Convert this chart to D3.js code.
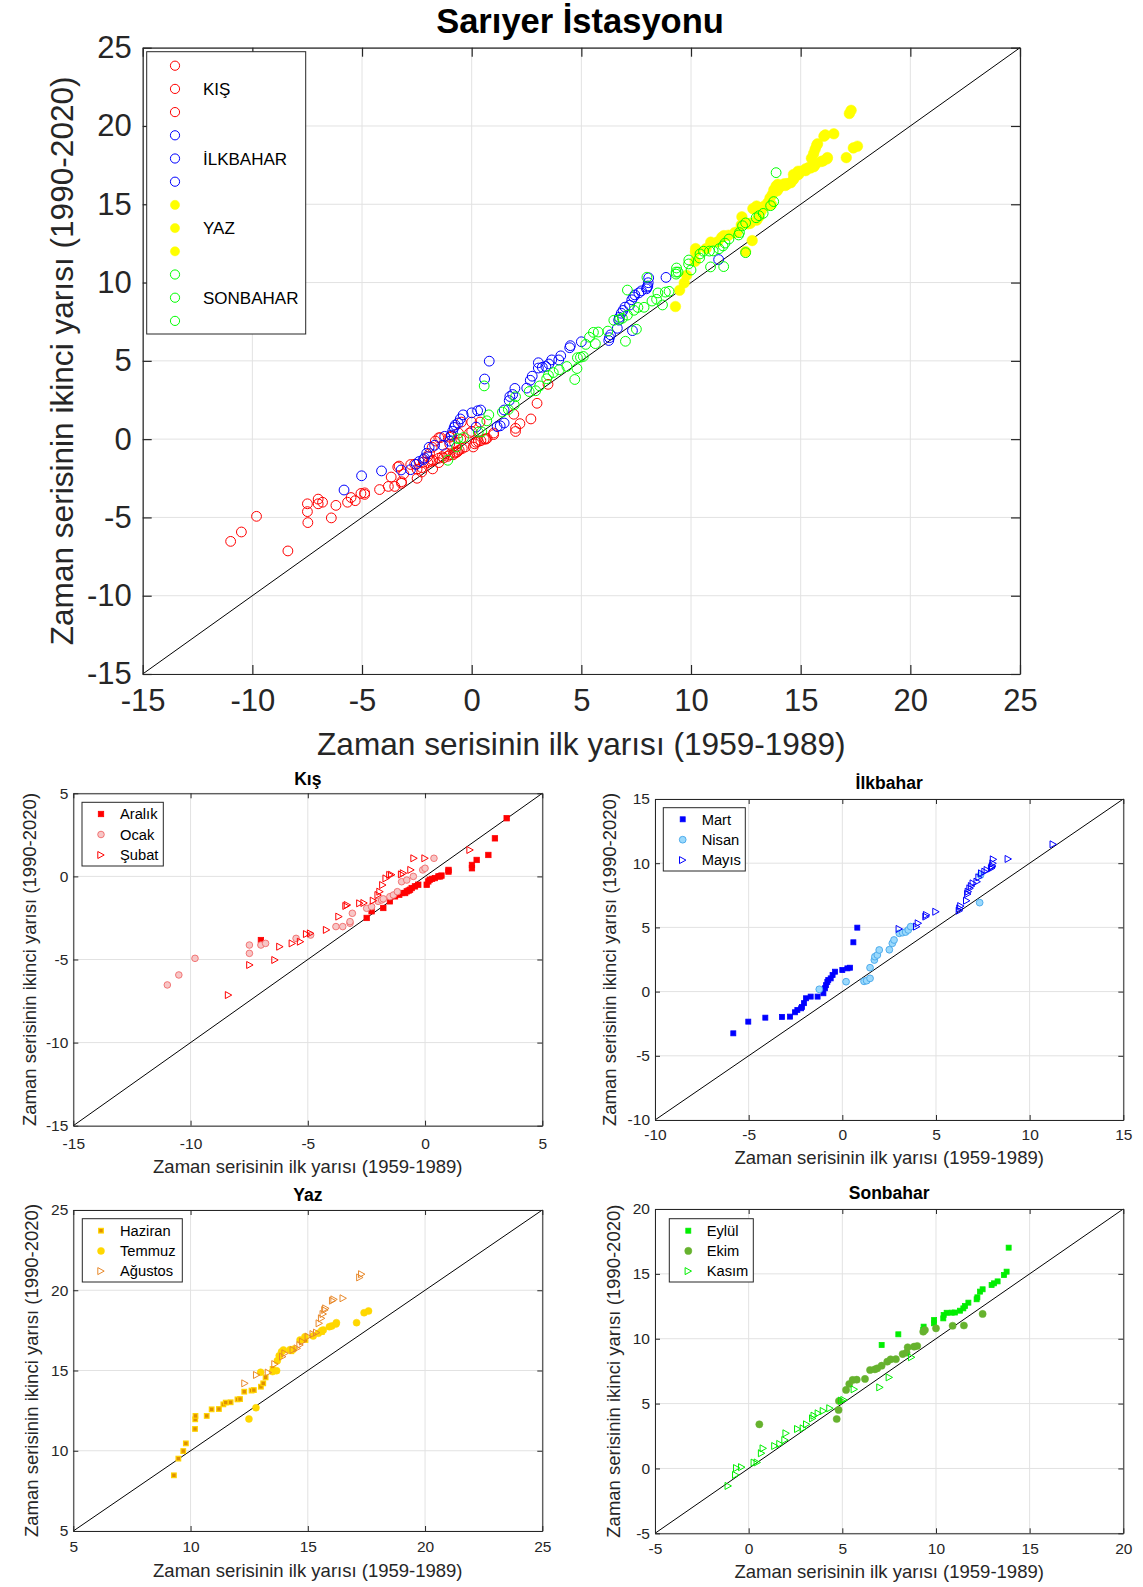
<!DOCTYPE html>
<html><head><meta charset="utf-8">
<script src="https://cdn.jsdelivr.net/npm/d3@7"></script>
<style>
body{margin:0;background:#fff}
svg{display:block}
text{font-family:"Liberation Sans",Arial,Helvetica,sans-serif}
</style>
</head><body>
<svg id="chart" width="1143" height="1587"></svg>
<script>
// ---------- DATA: quantile pairs [first half (1959-1989), second half (1990-2020)] ----------
const aralik = [[-7.0,-3.83],[-2.49,-2.5],[-2.28,-2.1],[-1.78,-1.9],[-1.5,-1.5],[-1.28,-1.2],[-1.1,-1.1],[-1.0,-1.0],[-0.85,-1.0],[-0.78,-0.9],[-0.7,-0.85],[-0.64,-0.8],[-0.57,-0.7],[-0.43,-0.6],[-0.29,-0.5],[0.07,-0.5],[0.14,-0.3],[0.2,-0.2],[0.3,-0.15],[0.42,-0.1],[0.57,0.0],[0.64,0.0],[0.7,0.05],[1.0,0.29],[1.0,0.39],[2.0,0.49],[2.0,0.69],[2.2,0.99],[2.7,1.29],[2.98,2.29],[3.48,3.5]];
const ocak = [[-10.99,-6.53],[-10.5,-5.93],[-9.81,-4.93],[-7.49,-4.63],[-7.49,-4.13],[-7.0,-4.13],[-6.8,-4.03],[-5.5,-3.73],[-4.88,-3.53],[-3.8,-3.02],[-3.51,-3.02],[-3.2,-2.82],[-3.2,-2.72],[-3.1,-2.22],[-2.49,-1.92],[-2.28,-1.82],[-2.0,-1.5],[-1.85,-1.42],[-1.78,-1.35],[-1.5,-1.22],[-1.35,-1.12],[-1.18,-0.92],[-1.0,-0.32],[-0.78,-0.22],[-0.5,0.0],[-0.1,0.39],[0.0,0.49],[0.38,1.09]];
const subat = [[-8.38,-7.14],[-7.47,-5.33],[-6.4,-5.03],[-6.19,-4.23],[-5.66,-4.03],[-5.31,-3.93],[-5.05,-3.47],[-4.88,-3.43],[-4.2,-3.22],[-3.67,-2.42],[-3.37,-1.78],[-3.31,-1.72],[-2.78,-1.62],[-2.6,-1.6],[-2.2,-1.46],[-2.0,-1.12],[-1.92,-0.92],[-1.8,-0.52],[-1.66,-0.12],[-1.5,0.09],[-1.42,0.1],[-1.0,0.12],[-0.92,0.19],[-0.6,0.39],[-0.47,1.09],[0.0,1.09],[1.92,1.59]];
const mart = [[-5.82,-3.25],[-5.02,-2.34],[-4.11,-2.03],[-3.22,-1.97],[-2.79,-1.95],[-2.53,-1.61],[-2.4,-1.43],[-2.2,-1.3],[-2.15,-1.2],[-2.05,-0.9],[-1.94,-0.52],[-1.69,-0.39],[-1.32,-0.39],[-1.01,-0.13],[-0.93,0.26],[-0.87,0.5],[-0.8,0.75],[-0.75,0.9],[-0.62,1.03],[-0.52,1.29],[-0.39,1.55],[0.0,1.68],[0.27,1.81],[0.41,1.86],[0.59,3.84],[0.8,4.98]];
const nisan = [[-1.23,0.18],[0.2,0.77],[1.16,0.8],[1.3,0.85],[1.48,1.03],[1.48,1.86],[1.71,2.46],[1.74,2.72],[1.87,2.85],[1.97,3.24],[2.51,3.26],[2.67,3.76],[2.76,4.02],[3.04,4.54],[3.22,4.59],[3.38,4.64],[3.52,4.8],[3.65,5.06],[7.33,6.93],[7.38,9.08]];
const mayis = [[3.04,4.88],[3.97,5.06],[4.06,5.32],[4.47,5.84],[4.5,5.97],[5.0,6.22],[6.25,6.3],[6.28,6.48],[6.33,6.66],[6.64,7.08],[6.7,7.6],[6.73,7.78],[6.82,8.04],[6.9,8.22],[6.99,8.43],[7.2,8.56],[7.3,8.9],[7.44,9.21],[7.62,9.34],[7.74,9.47],[7.97,9.6],[8.0,9.7],[8.03,9.78],[8.05,9.99],[8.07,10.3],[8.86,10.33],[11.26,11.47]];
const haziran = [[9.29,8.47],[9.48,9.51],[9.69,9.98],[9.8,10.46],[10.19,11.36],[10.2,11.96],[10.21,12.17],[10.69,12.17],[10.9,12.58],[11.21,12.6],[11.4,12.89],[11.5,13.0],[11.71,13.02],[12.0,13.2],[12.11,13.22],[12.29,13.68],[12.6,13.75],[12.7,13.78],[13.0,13.99],[13.1,14.2],[13.2,14.57],[13.5,15.1],[13.8,15.9],[14.3,16.2],[14.9,16.9],[15.6,17.4]];
const temmuz = [[12.49,11.98],[12.79,12.68],[12.99,14.89],[13.5,14.93],[13.67,14.99],[13.7,15.61],[13.78,15.92],[13.88,16.17],[13.96,16.28],[14.24,16.3],[14.38,16.32],[14.67,16.9],[14.88,17.11],[15.23,17.15],[15.45,17.32],[15.59,17.48],[15.66,17.52],[15.92,17.73],[16.02,17.77],[16.2,17.9],[16.22,17.98],[17.08,17.98],[17.4,18.6],[17.59,18.71]];
const agustos = [[12.32,14.2],[12.82,14.72],[13.32,14.87],[13.6,15.4],[13.93,15.86],[14.03,16.07],[14.38,16.28],[14.55,16.38],[14.67,16.59],[14.78,16.8],[15.02,17.11],[15.23,17.27],[15.38,17.36],[15.49,17.94],[15.59,18.25],[15.66,18.52],[15.73,18.77],[15.77,18.87],[16.06,19.35],[16.12,19.43],[16.51,19.5],[17.22,20.8],[17.3,21.0]];
const eylul = [[7.1,9.52],[7.99,10.34],[9.32,10.67],[9.34,10.93],[9.89,11.19],[9.9,11.44],[10.39,11.57],[10.41,11.83],[10.57,12.0],[10.84,12.01],[11.01,12.02],[11.28,12.16],[11.46,12.34],[11.55,12.52],[11.73,12.78],[12.17,13.04],[12.21,13.19],[12.35,13.63],[12.49,13.81],[12.97,14.14],[13.1,14.27],[13.29,14.42],[13.63,14.91],[13.77,15.17],[13.88,17.02]];
const ekim = [[0.57,3.4],[4.7,3.81],[4.8,4.51],[4.82,5.2],[5.2,6.05],[5.37,6.51],[5.55,6.82],[5.77,6.84],[6.21,6.9],[6.48,7.59],[6.74,7.64],[6.87,7.72],[7.1,7.92],[7.4,8.23],[7.58,8.41],[7.86,8.42],[8.22,8.82],[8.43,8.93],[8.49,9.34],[8.83,9.39],[9.0,9.44],[9.32,10.54],[9.41,10.67],[10.0,10.8],[10.89,11.0],[11.49,11.02],[12.49,11.91]];
const kasim = [[-1.09,-1.35],[-0.69,-0.5],[-0.64,0.03],[-0.37,0.1],[0.3,0.45],[0.46,0.46],[0.69,1.17],[0.78,1.55],[1.4,1.73],[1.67,1.89],[1.94,2.19],[2.0,2.71],[2.62,3.04],[2.92,3.09],[3.1,3.4],[3.42,3.86],[3.5,4.07],[3.72,4.25],[3.99,4.43],[4.34,4.64],[4.96,5.23],[5.09,5.28],[5.64,6.1],[7.01,6.25],[7.51,7.02],[8.7,8.57]];

const seasonNames = ["KIŞ","İLKBAHAR","YAZ","SONBAHAR"];
const panelTitles = ["Kış","İlkbahar","Yaz","Sonbahar"];
const monthNames = [["Aralık","Ocak","Şubat"],["Mart","Nisan","Mayıs"],["Haziran","Temmuz","Ağustos"],["Eylül","Ekim","Kasım"]];
const mainTicks = [-15,-10,-5,0,5,10,15,20,25];
const kisTicks = [-15,-10,-5,0,5];
const ilkbaharTicks = [-10,-5,0,5,10,15];
const yazTicks = [5,10,15,20,25];
const sonbaharTicks = [-5,0,5,10,15,20];
const xLabelText = "Zaman serisinin ilk yarısı (1959-1989)";
const yLabelText = "Zaman serisinin ikinci yarısı (1990-2020)";
const mainTitle = "Sarıyer İstasyonu";

// ---------- DRAWING ----------
const svg = d3.select("#chart");
const FONT = '"Liberation Sans",Arial,Helvetica,sans-serif';
const AX = "#262626", GRID = "#e2e2e2";
const fmt = d => String(d);   // ASCII hyphen-minus like the original

function marker(sel, type, x, y, st){
  if(type==="circle"){
    sel.append("circle").attr("cx",x).attr("cy",y).attr("r",st.r)
      .attr("fill",st.fill).attr("stroke",st.stroke).attr("stroke-width",st.sw||1);
  } else if(type==="square"){
    const s = st.s;
    sel.append("rect").attr("x",x-s/2).attr("y",y-s/2).attr("width",s).attr("height",s)
      .attr("fill",st.fill).attr("stroke",st.stroke).attr("stroke-width",st.sw||0.8);
  } else {
    const w = st.w, h = st.h;
    sel.append("path").attr("d",`M${x-w/2},${y-h/2}L${x+w/2},${y}L${x-w/2},${y+h/2}Z`)
      .attr("fill",st.fill).attr("stroke",st.stroke).attr("stroke-width",st.sw||1);
  }
}

function panel(cfg){
  const x = d3.scaleLinear().domain(cfg.xDomain).range([cfg.left,cfg.right]);
  const y = d3.scaleLinear().domain(cfg.yDomain).range([cfg.bottom,cfg.top]);
  const g = svg.append("g");
  g.append("g").selectAll("line").data(cfg.xTicks).join("line")
    .attr("x1",d=>x(d)).attr("x2",d=>x(d)).attr("y1",cfg.top).attr("y2",cfg.bottom)
    .attr("stroke",GRID).attr("stroke-width",1);
  g.append("g").selectAll("line").data(cfg.yTicks).join("line")
    .attr("y1",d=>y(d)).attr("y2",d=>y(d)).attr("x1",cfg.left).attr("x2",cfg.right)
    .attr("stroke",GRID).attr("stroke-width",1);
  const lo = Math.max(cfg.xDomain[0],cfg.yDomain[0]), hi = Math.min(cfg.xDomain[1],cfg.yDomain[1]);
  g.append("line").attr("x1",x(lo)).attr("y1",y(lo)).attr("x2",x(hi)).attr("y2",y(hi))
    .attr("stroke","#000").attr("stroke-width",1);
  const mg = g.append("g");
  cfg.series.forEach(s=>{
    s.data.forEach(d=>marker(mg, s.type, x(d[0]), y(d[1]), s.style));
  });
  const tl = cfg.tickLen;
  const styleAxis = a => {
    a.attr("font-family",FONT).attr("font-size",cfg.tickFont);
    a.select(".domain").attr("stroke",AX).attr("stroke-width",cfg.axW||1);
    a.selectAll(".tick line").attr("stroke",AX).attr("stroke-width",cfg.axW||1);
    a.selectAll(".tick text").attr("fill",AX);
  };
  g.append("g").attr("transform",`translate(0,${cfg.bottom})`)
    .call(d3.axisBottom(x).tickValues(cfg.xTicks).tickSize(-tl).tickSizeOuter(0).tickPadding(cfg.xPad).tickFormat(fmt))
    .call(styleAxis);
  g.append("g").attr("transform",`translate(0,${cfg.top})`)
    .call(d3.axisTop(x).tickValues(cfg.xTicks).tickSize(-tl).tickSizeOuter(0).tickFormat(""))
    .call(styleAxis);
  g.append("g").attr("transform",`translate(${cfg.left},0)`)
    .call(d3.axisLeft(y).tickValues(cfg.yTicks).tickSize(-tl).tickSizeOuter(0).tickPadding(cfg.yPad).tickFormat(fmt))
    .call(styleAxis);
  g.append("g").attr("transform",`translate(${cfg.right},0)`)
    .call(d3.axisRight(y).tickValues(cfg.yTicks).tickSize(-tl).tickSizeOuter(0).tickFormat(""))
    .call(styleAxis);
  const cx = (cfg.left+cfg.right)/2, cy = (cfg.top+cfg.bottom)/2;
  g.append("text").attr("x",cx).attr("y",cfg.xLabY).attr("text-anchor","middle")
    .attr("font-size",cfg.labFont).attr("fill",AX).text(xLabelText);
  g.append("text").attr("transform",`translate(${cfg.yLabX},${cy}) rotate(-90)`).attr("text-anchor","middle")
    .attr("font-size",cfg.labFont).attr("fill",AX).text(yLabelText);
  if(cfg.title){
    g.append("text").attr("x",cx).attr("y",cfg.titleY).attr("text-anchor","middle")
      .attr("font-size",cfg.titleFont).attr("font-weight","bold").attr("fill","#000").text(cfg.title);
  }
  const L = cfg.legend;
  const lg = g.append("g");
  lg.append("rect").attr("x",L.x).attr("y",L.y).attr("width",L.w).attr("height",L.h)
    .attr("fill","#fff").attr("stroke",AX).attr("stroke-width",1);
  L.items.forEach((it,i)=>{
    const ry = L.y0 + i*L.step;
    marker(lg, it.type, L.mx, ry, it.style);
    if(it.label) lg.append("text").attr("x",L.tx).attr("y",ry+L.dy).attr("font-size",L.font).attr("fill","#000").text(it.label);
  });
}

// ---------- main plot ----------
const seasonStyles = [
  {type:"circle", style:{r:4.9, fill:"none", stroke:"#ff0000", sw:1}},
  {type:"circle", style:{r:4.9, fill:"none", stroke:"#0000ff", sw:1}},
  {type:"circle", style:{r:5.3, fill:"#ffff00", stroke:"#ffff00", sw:0.5}},
  {type:"circle", style:{r:4.9, fill:"none", stroke:"#00ff00", sw:1}}
];
const seasonData = [[aralik,ocak,subat],[mart,nisan,mayis],[haziran,temmuz,agustos],[eylul,ekim,kasim]];
const mainSeries = [], mainLegend = [];
seasonData.forEach((months,si)=>{
  months.forEach((m,mi)=>{
    mainSeries.push({data:m, type:seasonStyles[si].type, style:seasonStyles[si].style});
    mainLegend.push({type:seasonStyles[si].type, style:{...seasonStyles[si].style, r:4.6}, label: mi===1 ? seasonNames[si] : ""});
  });
});
panel({
  left:142.7, right:1020, top:47.7, bottom:674,
  xDomain:[-15,25], yDomain:[-15,25], xTicks:mainTicks, yTicks:mainTicks,
  tickLen:9, tickFont:31, xPad:15, yPad:11, axW:1.2,
  labFont:31.6, xLabY:755, yLabX:73,
  series:mainSeries,
  legend:{x:146.7,y:51.7,w:159,h:282.3, y0:65.7, step:23.2, mx:175, tx:203, dy:6, font:17, items:mainLegend}
});
svg.append("text").attr("x",580).attr("y",33).attr("text-anchor","middle")
  .attr("font-size",34.5).attr("font-weight","bold").attr("font-family",FONT).text(mainTitle);

// ---------- seasonal subplots ----------
const monthStyles = [
  [ {type:"square", style:{s:5.4, fill:"#ff0000", stroke:"#ff0000"}},
    {type:"circle", style:{r:3.3, fill:"#f7c6c6", stroke:"#f06a6a", sw:0.9}},
    {type:"tri", style:{w:6.4, h:7, fill:"none", stroke:"#ff0000", sw:1}} ],
  [ {type:"square", style:{s:5.0, fill:"#0000ff", stroke:"#0000ff"}},
    {type:"circle", style:{r:3.4, fill:"#9ad9fc", stroke:"#45a6ea", sw:0.9}},
    {type:"tri", style:{w:6.4, h:7, fill:"none", stroke:"#0000ff", sw:1}} ],
  [ {type:"square", style:{s:4.6, fill:"#e09000", stroke:"#ffd400", sw:1.2}},
    {type:"circle", style:{r:3.5, fill:"#ffd700", stroke:"#ffd700", sw:0.5}},
    {type:"tri", style:{w:6.4, h:7, fill:"none", stroke:"#e8892b", sw:1}} ],
  [ {type:"square", style:{s:5.0, fill:"#00ee00", stroke:"#00ee00"}},
    {type:"circle", style:{r:3.6, fill:"#66b22e", stroke:"#66b22e", sw:0.5}},
    {type:"tri", style:{w:6.4, h:7, fill:"none", stroke:"#00ee00", sw:1}} ]
];
const panelLayouts = [
  {left:73.3, right:542.3, top:793.3, bottom:1125.7, xDomain:[-15,5], yDomain:[-15,5], ticks:kisTicks,
   titleY:785, xLabY:1173, yLabX:36, xPad:12.5,
   legend:{x:82,y:802.3,w:81.3,h:63.7, y0:814, step:20.5, mx:101, tx:120, dy:5.3}},
  {left:655, right:1123.3, top:799, bottom:1120, xDomain:[-10,15], yDomain:[-10,15], ticks:ilkbaharTicks,
   titleY:789, xLabY:1164, yLabX:616, xPad:9,
   legend:{x:663.3,y:807.7,w:82,h:63.3, y0:819.3, step:20.4, mx:682.7, tx:701.7, dy:5.3}},
  {left:73.3, right:542.3, top:1210, bottom:1531, xDomain:[5,25], yDomain:[5,25], ticks:yazTicks,
   titleY:1201, xLabY:1577, yLabX:38, xPad:10,
   legend:{x:82.3,y:1218.7,w:100,h:63.3, y0:1230.7, step:20.2, mx:101, tx:120, dy:5.3}},
  {left:655, right:1123.3, top:1209, bottom:1533.3, xDomain:[-5,20], yDomain:[-5,20], ticks:sonbaharTicks,
   titleY:1199, xLabY:1578, yLabX:620, xPad:10,
   legend:{x:669.3,y:1218.7,w:84,h:63.3, y0:1230.7, step:20.2, mx:688.3, tx:706.7, dy:5.3}}
];
panelLayouts.forEach((P,si)=>{
  const series = seasonData[si].map((m,mi)=>({data:m, type:monthStyles[si][mi].type, style:monthStyles[si][mi].style}));
  const items = monthStyles[si].map((ms,mi)=>({type:ms.type, style:ms.style, label:monthNames[si][mi]}));
  panel({
    left:P.left, right:P.right, top:P.top, bottom:P.bottom,
    xDomain:P.xDomain, yDomain:P.yDomain, xTicks:P.ticks, yTicks:P.ticks,
    tickLen:5, tickFont:15.5, xPad:P.xPad, yPad:5, axW:1,
    labFont:18.5, xLabY:P.xLabY, yLabX:P.yLabX,
    title:panelTitles[si], titleY:P.titleY, titleFont:17.5,
    series:series,
    legend:{...P.legend, font:14.7, items:items}
  });
});
</script>
</body></html>
